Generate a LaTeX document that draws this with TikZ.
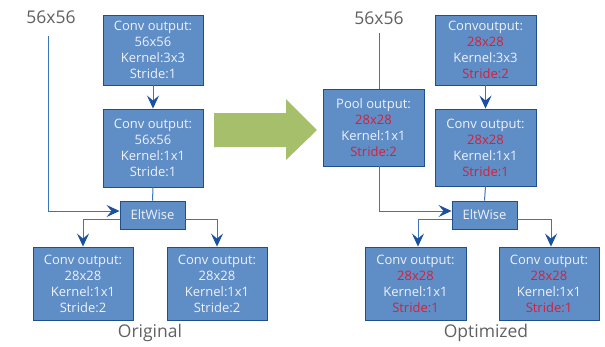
\documentclass[tikz,border=0pt]{standalone}
\usepackage{fontspec}
\setmainfont{Open Sans}
\usetikzlibrary{arrows.meta}
\definecolor{boxfill}{HTML}{5F8DC6}
\definecolor{boxedge}{HTML}{1F4F8F}
\definecolor{linec}{HTML}{3A74BC}
\definecolor{tipc}{HTML}{1A50A0}
\definecolor{redt}{HTML}{D81E3A}
\definecolor{whitet}{HTML}{EEF2F8}
\definecolor{greyt}{HTML}{606060}
\definecolor{greenar}{HTML}{A6BF6B}
\tikzset{
  box/.style={draw=boxedge, line width=0.9pt, fill=boxfill, text=whitet, align=center,
    inner sep=0pt, font=\fontsize{13}{16}\selectfont},
  conn/.style={draw=linec, line width=1pt},
  arr/.style={conn, -{Stealth[length=13pt,width=12pt,inset=5pt,color=tipc,fill=tipc]}},
  lbl/.style={text=greyt, font=\fontsize{17.5}{19}\selectfont, inner sep=0pt}
}
\newcommand{\rd}[1]{\textcolor{redt}{#1}}
\begin{document}
\begin{tikzpicture}[x=1pt,y=-1pt]
\useasboundingbox (0,0) rectangle (605,346);
% green arrow
\fill[greenar] (214,113) -- (286,113) -- (286,99) -- (317,130) -- (286,160) -- (286,147) -- (214,147) -- cycle;

% ---------- Original ----------
\node[lbl] (in1lbl) at (51,17) {56x56};
\coordinate (in1) at (48,36);
\node[box, minimum width=100pt, minimum height=70pt] (c1) at (153,50)
  {Conv output:\\56x56\\Kernel:3x3\\Stride:1};
\node[box, minimum width=100pt, minimum height=78pt] (c2) at (153,148)
  {Conv output:\\56x56\\Kernel:1x1\\Stride:1};
\node[box, minimum width=65pt, minimum height=28pt] (e1) at (152.5,215) {EltWise};
\node[box, minimum width=100pt, minimum height=73pt] (b1) at (83,283.5)
  {Conv output:\\28x28\\Kernel:1x1\\Stride:2};
\node[box, minimum width=100pt, minimum height=73pt] (b2) at (217,283.5)
  {Conv output:\\28x28\\Kernel:1x1\\Stride:2};
\node[lbl] (orig) at (150,333) {Original};

\draw[arr] (c1.south) -- (c2.north);
\draw[conn] (c2.south) -- (e1.north);
\draw[arr] (in1) |- ([yshift=4pt]e1.west);
\draw[arr] ([yshift=-4pt]e1.west) -| (b1.north);
\draw[arr] ([yshift=-4pt]e1.east) -| (b2.north);

% ---------- Optimized ----------
\node[lbl] (in2lbl) at (379,18) {56x56};
\coordinate (in2) at (379,33);
\node[box, minimum width=101pt, minimum height=77pt] (pool) at (373.5,127.5)
  {Pool output:\\\rd{28x28}\\Kernel:1x1\\\rd{Stride:2}};
\node[box, minimum width=101pt, minimum height=70pt] (d1) at (485.5,50)
  {Convoutput:\\\rd{28x28}\\Kernel:3x3\\\rd{Stride:2}};
\node[box, minimum width=101pt, minimum height=77pt] (d2) at (485.5,147.5)
  {Conv output:\\\rd{28x28}\\Kernel:1x1\\\rd{Stride:1}};
\node[box, minimum width=65pt, minimum height=28pt] (e2) at (484.5,215) {EltWise};
\node[box, minimum width=101pt, minimum height=73pt] (b3) at (415.5,283.5)
  {Conv output:\\\rd{28x28}\\Kernel:1x1\\\rd{Stride:1}};
\node[box, minimum width=100pt, minimum height=73pt] (b4) at (549,283.5)
  {Conv output:\\\rd{28x28}\\Kernel:1x1\\\rd{Stride:1}};
\node[lbl] (opt) at (486,333) {Optimized};

\draw[conn] (in2) -- (in2 |- pool.north);
\draw[arr] (d1.south) -- (d2.north);
\draw[conn] (d2.south) -- (e2.north);
\draw[arr] (pool.south -| in2) |- ([yshift=4pt]e2.west);
\draw[arr] ([yshift=-4pt]e2.west) -| ([xshift=2.5pt]b3.north);
\draw[arr] ([yshift=-4pt]e2.east) -| ([xshift=2pt]b4.north);
\end{tikzpicture}
\end{document}
